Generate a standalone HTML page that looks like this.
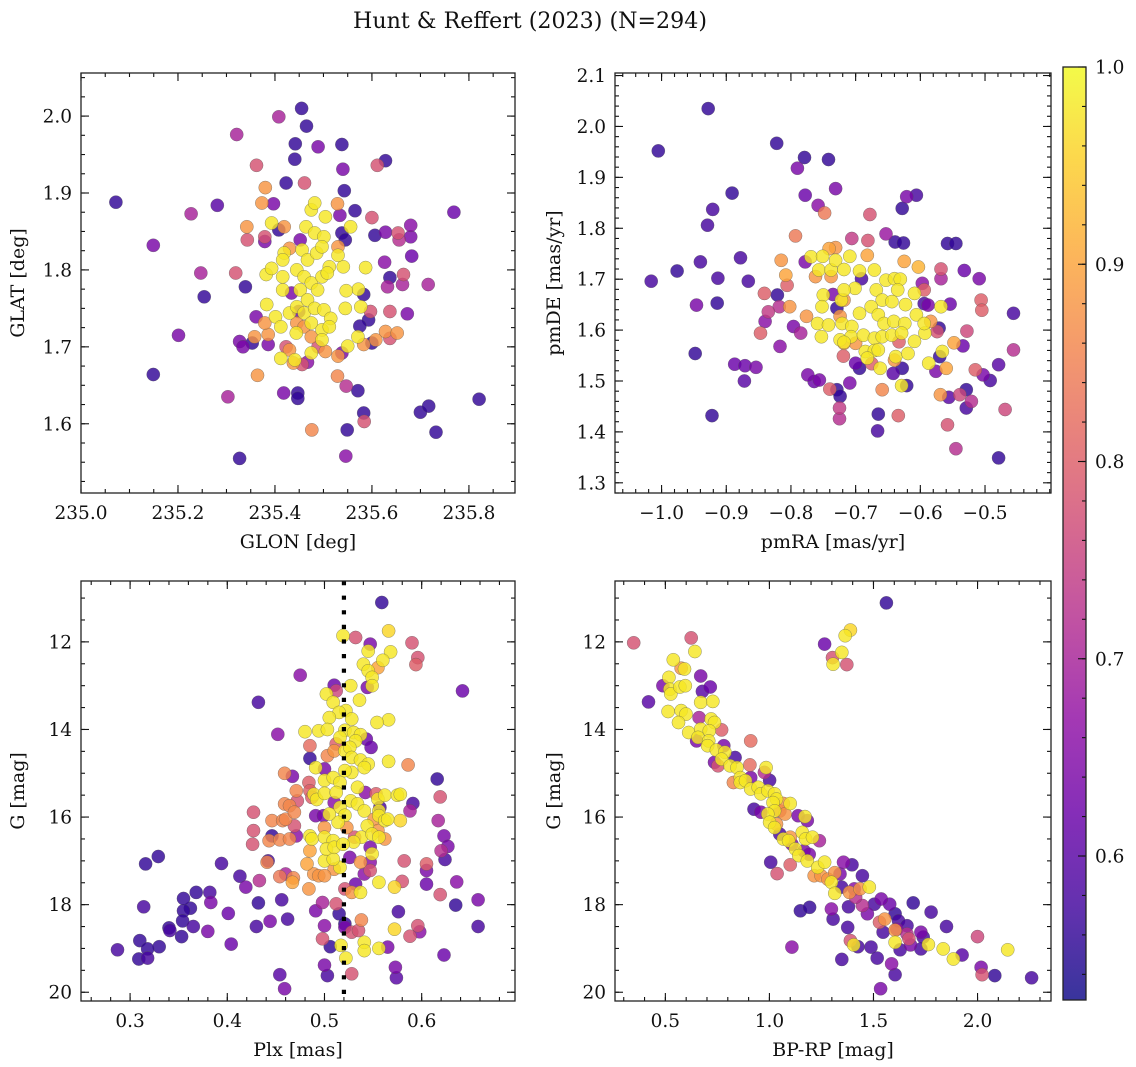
<!DOCTYPE html>
<html><head><meta charset="utf-8"><style>
html,body{margin:0;padding:0;background:#fff}
svg{display:block}
text{font-family:"DejaVu Serif","Liberation Serif",serif;fill:#111}
</style></head><body>
<svg id="fig" width="1136" height="1067" viewBox="0 0 1136 1067" xmlns="http://www.w3.org/2000/svg">
<text x="530" y="28" font-size="22" text-anchor="middle" textLength="354" lengthAdjust="spacingAndGlyphs">Hunt &amp; Reffert (2023) (N=294)</text>
</svg>
<script>
// ---------- data (x, y, membership probability) ----------
const skyPoints = [
[235.072,1.888,0.56],[235.149,1.832,0.64],[235.149,1.664,0.56],[235.201,1.715,0.64],[235.227,1.873,0.70],[235.247,1.796,0.70],[235.254,1.765,0.56],[235.281,1.884,0.60],[235.303,1.635,0.70],[235.321,1.976,0.70],[235.327,1.555,0.56],[235.319,1.796,0.78],[235.339,1.778,0.56],[235.327,1.707,0.64],[235.334,1.700,0.64],[235.353,1.705,0.56],[235.362,1.936,0.78],[235.361,1.739,0.64],[235.364,1.663,0.88],[235.380,1.907,0.88],[235.373,1.887,0.88],[235.397,1.886,0.64],[235.408,1.999,0.70],[235.423,1.913,0.56],[235.418,1.640,0.64],[235.442,1.964,0.56],[235.441,1.944,0.56],[235.455,2.010,0.56],[235.465,1.987,0.56],[235.489,1.960,0.64],[235.461,1.913,0.78],[235.447,1.640,0.56],[235.447,1.633,0.56],[235.476,1.592,0.86],[235.538,1.963,0.56],[235.540,1.931,0.64],[235.543,1.903,0.56],[235.529,1.886,0.88],[235.534,1.871,0.64],[235.565,1.877,0.56],[235.549,1.592,0.56],[235.546,1.558,0.66],[235.547,1.649,0.72],[235.571,1.643,0.56],[235.583,1.614,0.56],[235.584,1.603,0.78],[235.600,1.868,0.78],[235.606,1.845,0.56],[235.628,1.942,0.56],[235.611,1.936,0.78],[235.628,1.849,0.64],[235.626,1.810,0.66],[235.637,1.790,0.56],[235.632,1.778,0.70],[235.665,1.794,0.78],[235.663,1.781,0.70],[235.654,1.848,0.78],[235.656,1.839,0.72],[235.680,1.858,0.66],[235.680,1.843,0.64],[235.682,1.818,0.62],[235.673,1.743,0.64],[235.637,1.746,0.78],[235.637,1.711,0.78],[235.628,1.720,0.88],[235.652,1.718,0.88],[235.608,1.709,0.88],[235.600,1.705,0.56],[235.583,1.703,0.88],[235.587,1.803,0.98],[235.572,1.775,0.98],[235.583,1.768,0.56],[235.577,1.752,0.98],[235.571,1.713,0.98],[235.593,1.735,0.56],[235.575,1.727,0.56],[235.597,1.746,0.78],[235.716,1.781,0.70],[235.700,1.615,0.56],[235.717,1.623,0.56],[235.732,1.589,0.56],[235.769,1.875,0.62],[235.821,1.632,0.56],[235.529,1.662,0.86],[235.530,1.688,0.88],[235.538,1.692,0.64],[235.550,1.701,0.98],[235.545,1.750,0.98],[235.547,1.773,0.98],[235.541,1.804,0.98],[235.530,1.819,0.98],[235.530,1.830,0.88],[235.556,1.856,0.98],[235.538,1.848,0.56],[235.545,1.839,0.56],
[235.393,1.861,0.98],[235.419,1.856,0.88],[235.408,1.852,0.56],[235.430,1.828,0.88],[235.419,1.822,0.98],[235.416,1.813,0.98],[235.382,1.794,0.98],[235.393,1.802,0.98],[235.416,1.791,0.98],[235.416,1.774,0.98],[235.383,1.755,0.98],[235.401,1.739,0.98],[235.412,1.726,0.98],[235.430,1.744,0.98],[235.445,1.752,0.98],[235.444,1.718,0.98],[235.412,1.685,0.98],[235.441,1.683,0.98],[235.438,1.679,0.88],[235.430,1.696,0.88],[235.475,1.878,0.98],[235.482,1.887,0.98],[235.504,1.869,0.98],[235.464,1.856,0.98],[235.482,1.848,0.98],[235.501,1.843,0.98],[235.452,1.839,0.64],[235.456,1.826,0.98],[235.467,1.813,0.98],[235.486,1.822,0.98],[235.497,1.830,0.98],[235.512,1.804,0.98],[235.445,1.800,0.98],[235.460,1.791,0.98],[235.475,1.783,0.98],[235.488,1.774,0.98],[235.452,1.774,0.98],[235.467,1.761,0.98],[235.497,1.791,0.98],[235.508,1.796,0.98],[235.434,1.770,0.64],[235.449,1.746,0.62],[235.460,1.744,0.98],[235.482,1.750,0.98],[235.501,1.748,0.98],[235.515,1.737,0.98],[235.475,1.731,0.98],[235.497,1.722,0.98],[235.512,1.726,0.98],[235.475,1.692,0.98],[235.497,1.709,0.98],[235.504,1.694,0.88],[235.467,1.680,0.66],[235.456,1.677,0.78],[235.489,1.700,0.78],[235.445,1.731,0.88],[235.460,1.726,0.88],[235.475,1.713,0.88],[235.423,1.700,0.78],[235.379,1.837,0.64],[235.379,1.843,0.78],[235.343,1.839,0.78],[235.342,1.856,0.88],[235.358,1.713,0.88],[235.386,1.716,0.88],[235.386,1.703,0.64],[235.379,1.731,0.88]
];
const pmPoints = [
[-0.928,2.035,0.56],[-1.005,1.952,0.56],[-0.822,1.967,0.56],[-0.779,1.939,0.56],[-0.742,1.935,0.56],[-0.790,1.918,0.64],[-0.731,1.878,0.64],[-0.891,1.869,0.56],[-0.778,1.865,0.62],[-0.921,1.837,0.58],[-0.758,1.845,0.66],[-0.748,1.830,0.84],[-0.678,1.827,0.78],[-0.621,1.862,0.64],[-0.606,1.865,0.58],[-0.628,1.839,0.56],[-0.929,1.806,0.58],[-0.793,1.785,0.84],[-0.706,1.780,0.74],[-0.681,1.776,0.78],[-0.653,1.789,0.68],[-0.639,1.773,0.56],[-0.626,1.771,0.56],[-0.558,1.770,0.56],[-0.545,1.770,0.56],[-0.940,1.734,0.58],[-0.878,1.742,0.58],[-0.976,1.716,0.56],[-1.016,1.696,0.58],[-0.913,1.702,0.58],[-0.866,1.696,0.58],[-0.946,1.649,0.64],[-0.914,1.653,0.56],[-0.948,1.554,0.56],[-0.922,1.432,0.56],[-0.887,1.533,0.62],[-0.871,1.530,0.62],[-0.854,1.527,0.64],[-0.872,1.500,0.60],[-0.847,1.594,0.80],[-0.841,1.672,0.80],[-0.840,1.617,0.66],[-0.835,1.636,0.74],[-0.821,1.669,0.56],[-0.818,1.646,0.72],[-0.817,1.568,0.66],[-0.815,1.737,0.88],[-0.808,1.708,0.90],[-0.806,1.688,0.80],[-0.802,1.646,0.88],[-0.796,1.607,0.64],[-0.785,1.594,0.70],[-0.778,1.734,0.64],[-0.774,1.512,0.64],[-0.764,1.499,0.62],[-0.756,1.502,0.64],[-0.740,1.484,0.80],[-0.729,1.483,0.56],[-0.724,1.470,0.56],[-0.725,1.447,0.74],[-0.725,1.426,0.72],[-0.709,1.496,0.64],[-0.700,1.535,0.62],[-0.694,1.525,0.56],[-0.665,1.435,0.56],[-0.666,1.402,0.58],[-0.659,1.483,0.86],[-0.634,1.432,0.80],[-0.642,1.515,0.60],[-0.628,1.525,0.56],[-0.621,1.491,0.56],[-0.629,1.491,0.98],[-0.556,1.468,0.60],[-0.539,1.473,0.76],[-0.529,1.483,0.56],[-0.529,1.447,0.58],[-0.521,1.460,0.72],[-0.569,1.473,0.88],[-0.558,1.414,0.78],[-0.545,1.367,0.72],[-0.479,1.349,0.56],[-0.469,1.444,0.76],[-0.515,1.522,0.80],[-0.503,1.512,0.64],[-0.492,1.501,0.58],[-0.479,1.532,0.60],[-0.456,1.633,0.58],[-0.456,1.561,0.72],[-0.506,1.659,0.80],[-0.505,1.639,0.80],[-0.509,1.701,0.64],[-0.532,1.717,0.62],[-0.568,1.720,0.78],[-0.568,1.701,0.70],[-0.554,1.651,0.62],[-0.528,1.598,0.76],[-0.534,1.569,0.62],[-0.548,1.575,0.90],[-0.566,1.558,0.98],[-0.570,1.548,0.56],[-0.560,1.525,0.90],[-0.587,1.535,0.98],[-0.576,1.519,0.64],[-0.574,1.597,0.78],[-0.571,1.604,0.56],[-0.568,1.646,0.98],[-0.588,1.649,0.64],[-0.594,1.679,0.80],[-0.597,1.692,0.66],
[-0.769,1.744,0.98],[-0.751,1.745,0.98],[-0.757,1.718,0.98],[-0.738,1.718,0.98],[-0.731,1.737,0.98],[-0.718,1.719,0.98],[-0.709,1.745,0.98],[-0.694,1.716,0.98],[-0.671,1.718,0.98],[-0.741,1.760,0.90],[-0.731,1.762,0.88],[-0.682,1.747,0.90],[-0.625,1.735,0.90],[-0.603,1.724,0.92],[-0.762,1.705,0.88],[-0.738,1.705,0.88],[-0.750,1.669,0.98],[-0.752,1.646,0.98],[-0.722,1.659,0.98],[-0.701,1.682,0.98],[-0.718,1.679,0.98],[-0.729,1.643,0.56],[-0.735,1.670,0.64],[-0.691,1.701,0.58],[-0.653,1.698,0.98],[-0.640,1.701,0.98],[-0.631,1.700,0.98],[-0.635,1.679,0.98],[-0.668,1.679,0.98],[-0.659,1.659,0.98],[-0.644,1.656,0.98],[-0.623,1.650,0.98],[-0.609,1.672,0.98],[-0.694,1.633,0.98],[-0.676,1.646,0.98],[-0.665,1.630,0.98],[-0.656,1.613,0.98],[-0.641,1.617,0.98],[-0.624,1.613,0.98],[-0.606,1.630,0.98],[-0.759,1.613,0.98],[-0.742,1.610,0.98],[-0.753,1.587,0.98],[-0.721,1.613,0.98],[-0.706,1.607,0.98],[-0.707,1.587,0.98],[-0.688,1.590,0.98],[-0.671,1.584,0.98],[-0.659,1.587,0.98],[-0.644,1.590,0.98],[-0.629,1.594,0.98],[-0.609,1.578,0.98],[-0.593,1.594,0.98],[-0.594,1.613,0.98],[-0.724,1.581,0.98],[-0.718,1.576,0.98],[-0.685,1.558,0.98],[-0.671,1.560,0.98],[-0.665,1.561,0.98],[-0.682,1.545,0.98],[-0.662,1.525,0.98],[-0.638,1.548,0.98],[-0.619,1.554,0.98],[-0.718,1.659,0.88],[-0.724,1.627,0.88],[-0.718,1.574,0.88],[-0.700,1.574,0.88],[-0.776,1.627,0.88],[-0.719,1.549,0.80],[-0.675,1.534,0.80],[-0.640,1.541,0.88],[-0.633,1.577,0.80],[-0.594,1.652,0.58],[-0.584,1.617,0.88]
];
const plxPoints = [
[0.559,11.10,0.56],[0.566,11.75,0.96],[0.519,11.86,0.98],[0.532,11.90,0.78],[0.547,12.05,0.64],[0.590,12.02,0.78],[0.596,12.36,0.78],[0.594,12.52,0.80],[0.545,12.21,0.98],[0.568,12.23,0.98],[0.560,12.42,0.98],[0.540,12.51,0.98],[0.545,12.66,0.98],[0.555,12.59,0.90],[0.549,12.81,0.98],[0.549,13.00,0.98],[0.544,13.04,0.64],[0.475,12.76,0.66],[0.527,13.00,0.98],[0.510,12.99,0.62],[0.512,13.12,0.76],[0.502,13.19,0.98],[0.509,13.38,0.98],[0.642,13.12,0.62],[0.432,13.38,0.58],[0.536,13.33,0.98],[0.522,13.57,0.98],[0.515,13.61,0.98],[0.505,13.73,0.98],[0.528,13.76,0.98],[0.566,13.78,0.98],[0.554,13.84,0.98],[0.480,14.05,0.98],[0.494,14.03,0.98],[0.503,14.00,0.98],[0.521,14.02,0.98],[0.530,14.07,0.98],[0.537,14.12,0.98],[0.532,14.26,0.98],[0.452,14.11,0.66],[0.543,14.22,0.62],[0.548,14.41,0.62],[0.485,14.37,0.82],[0.512,14.33,0.80],[0.510,14.49,0.88],[0.521,14.49,0.98],[0.526,14.41,0.98],[0.528,14.64,0.98],[0.516,14.18,0.98],[0.485,14.66,0.56],[0.503,14.60,0.86],[0.537,14.70,0.98],[0.545,14.79,0.98],[0.541,14.87,0.98],[0.566,14.73,0.98],[0.586,14.81,0.86],[0.491,14.87,0.98],[0.500,14.90,0.64],[0.528,14.98,0.98],[0.521,14.94,0.98],[0.459,15.00,0.86],[0.467,15.07,0.64],[0.500,15.16,0.98],[0.509,15.10,0.98],[0.516,15.21,0.98],[0.534,15.32,0.98],[0.527,15.63,0.98],[0.542,15.44,0.66],[0.484,15.21,0.80],[0.485,15.40,0.80],[0.487,15.55,0.80],[0.471,15.40,0.86],[0.472,15.63,0.78],[0.489,15.48,0.98],[0.492,15.60,0.98],[0.500,15.46,0.98],[0.512,15.44,0.98],[0.510,15.67,0.66],[0.516,15.78,0.98],[0.553,15.47,0.80],[0.555,15.59,0.98],[0.562,15.50,0.98],[0.575,15.50,0.98],[0.578,15.48,0.98],[0.534,15.70,0.98],[0.541,15.86,0.98],[0.556,15.86,0.98],[0.557,15.78,0.58],[0.591,15.69,0.58],[0.588,15.86,0.70],[0.616,15.13,0.56],[0.619,15.54,0.78],[0.617,16.08,0.70],[0.623,16.43,0.64],[0.627,16.67,0.64],[0.620,16.77,0.72],[0.624,16.97,0.58],[0.605,17.07,0.80],[0.605,17.22,0.64],[0.605,17.53,0.62],[0.636,17.48,0.66],[0.619,17.77,0.78],[0.635,18.01,0.56],[0.658,17.89,0.64],[0.658,18.50,0.58],[0.623,19.15,0.62],[0.596,18.48,0.78],[0.598,18.62,0.66],[0.588,18.72,0.78],[0.576,18.16,0.58],[0.572,18.56,0.96],[0.573,19.43,0.64],[0.574,19.67,0.60],[0.565,18.97,0.64],[0.556,19.00,0.98],[0.541,18.86,0.98],[0.541,19.05,0.98],[0.538,18.35,0.86],[0.528,18.63,0.78],[0.535,18.59,0.78],[0.521,18.44,0.56],[0.521,18.52,0.64],[0.522,19.22,0.98],[0.517,18.93,0.98],[0.512,17.98,0.78],[0.515,18.21,0.56],[0.528,19.58,0.78],[0.503,19.62,0.58],[0.500,19.38,0.64],[0.506,18.96,0.56],[0.500,18.48,0.66],[0.498,18.78,0.78],[0.491,18.14,0.64],[0.498,17.95,0.70],[0.521,17.64,0.78],[0.528,17.72,0.88],[0.537,17.72,0.98],[0.532,17.53,0.62],[0.556,17.49,0.98],[0.572,17.60,0.96],[0.580,17.47,0.78],[0.582,17.00,0.78],[0.541,17.30,0.66],[0.547,17.22,0.78],[0.537,17.03,0.88],[0.547,17.03,0.66],[0.526,16.92,0.64],[0.516,17.15,0.98],[0.510,17.19,0.88],[0.500,17.00,0.98],[0.509,16.96,0.98],[0.556,15.97,0.98],[0.562,16.08,0.98],[0.551,16.05,0.88],[0.544,16.20,0.98],[0.555,16.31,0.88],[0.538,16.46,0.98],[0.531,16.46,0.78],[0.523,16.24,0.88],[0.549,16.39,0.98],[0.556,16.46,0.98],[0.562,16.50,0.88],[0.549,16.84,0.98],[0.547,16.69,0.64],[0.565,16.05,0.98],[0.578,16.08,0.96],[0.530,16.57,0.98],[0.521,15.96,0.98],[0.514,16.12,0.98],[0.485,16.43,0.98],[0.487,16.50,0.98],[0.485,16.77,0.90],[0.500,16.24,0.88],[0.500,16.46,0.98],[0.509,16.54,0.98],[0.502,16.73,0.98],[0.510,16.69,0.98],[0.519,16.62,0.98],[0.491,15.97,0.64],[0.499,15.97,0.64],[0.505,15.93,0.98],[0.482,17.07,0.90],[0.489,17.30,0.88],[0.494,17.34,0.88],[0.500,17.34,0.88],[0.484,17.64,0.88],[0.454,17.36,0.84],[0.460,17.30,0.70],[0.468,17.39,0.86],[0.467,17.49,0.90],[0.441,17.03,0.86],[0.442,17.00,0.58],[0.433,17.45,0.72],[0.427,15.89,0.78],[0.427,16.31,0.78],[0.426,16.62,0.78],[0.446,16.08,0.86],[0.457,16.08,0.86],[0.460,16.05,0.86],[0.446,16.43,0.56],[0.443,16.54,0.86],[0.454,16.52,0.86],[0.464,16.50,0.86],[0.459,15.70,0.86],[0.464,15.74,0.86],[0.469,15.89,0.86],[0.471,16.43,0.66],[0.469,16.20,0.78],[0.413,17.35,0.58],[0.419,17.60,0.64],[0.394,17.06,0.58],[0.382,17.72,0.58],[0.383,17.95,0.64],[0.368,17.72,0.56],[0.362,18.08,0.56],[0.355,18.14,0.56],[0.355,17.86,0.56],[0.354,18.37,0.56],[0.353,18.73,0.56],[0.365,18.50,0.58],[0.340,18.53,0.56],[0.341,18.59,0.58],[0.330,18.96,0.56],[0.329,16.90,0.56],[0.316,17.07,0.56],[0.314,18.05,0.58],[0.310,18.82,0.56],[0.318,19.01,0.56],[0.309,19.24,0.56],[0.318,19.22,0.58],[0.287,19.03,0.58],[0.380,18.61,0.64],[0.401,18.20,0.62],[0.404,18.90,0.62],[0.432,17.96,0.56],[0.430,18.50,0.58],[0.444,18.38,0.64],[0.456,17.89,0.58],[0.462,18.33,0.58],[0.454,19.60,0.60],[0.459,19.92,0.64]
];
const cmdPoints = [
[1.562,11.11,0.56],[0.348,12.02,0.78],[0.624,11.91,0.78],[0.642,12.22,0.98],[0.538,12.41,0.98],[0.592,12.62,0.98],[0.576,12.60,0.88],[0.670,12.78,0.64],[0.517,12.81,0.98],[0.488,13.00,0.64],[0.522,13.08,0.98],[0.526,13.19,0.98],[0.570,13.03,0.98],[0.596,13.00,0.98],[0.678,13.13,0.60],[0.716,13.03,0.62],[0.419,13.37,0.60],[0.670,13.38,0.98],[0.728,13.36,0.98],[0.513,13.59,0.98],[0.576,13.57,0.98],[0.599,13.65,0.98],[0.662,13.73,0.70],[0.563,13.84,0.98],[0.612,14.07,0.98],[0.670,13.99,0.98],[0.720,13.76,0.98],[0.736,13.84,0.98],[0.770,14.01,0.80],[0.657,14.18,0.98],[0.711,14.03,0.98],[0.708,14.26,0.98],[0.650,14.26,0.64],[0.910,14.26,0.82],[0.703,14.37,0.98],[0.745,14.47,0.98],[0.786,14.52,0.98],[0.781,14.37,0.64],[0.835,14.64,0.58],[0.736,14.75,0.64],[0.753,14.83,0.78],[0.770,14.68,0.98],[0.811,14.83,0.98],[0.844,14.87,0.98],[0.860,15.10,0.98],[0.910,15.10,0.64],[0.906,14.81,0.82],[0.984,14.87,0.98],[0.976,14.98,0.72],[1.001,15.16,0.58],[0.827,15.21,0.86],[0.860,15.21,0.98],[0.885,15.17,0.98],[0.910,15.36,0.98],[0.946,15.32,0.98],[0.959,15.47,0.98],[0.992,15.40,0.98],[1.025,15.47,0.98],[1.034,15.59,0.98],[1.067,15.69,0.88],[1.100,15.69,0.98],[0.926,15.82,0.58],[0.959,15.89,0.64],[1.017,15.67,0.98],[1.025,15.86,0.98],[1.050,15.86,0.80],[1.075,15.93,0.88],[0.992,15.93,0.98],[1.001,16.12,0.98],[1.025,16.24,0.98],[1.034,16.16,0.88],[1.138,15.97,0.64],[1.171,15.99,0.98],[1.182,16.08,0.64],[1.158,16.35,0.98],[1.174,16.50,0.98],[1.207,16.46,0.98],[1.240,16.54,0.70],[1.050,16.39,0.58],[1.067,16.50,0.98],[1.092,16.54,0.98],[1.100,16.46,0.88],[1.108,16.62,0.64],[1.125,16.73,0.98],[1.141,16.88,0.98],[1.166,16.77,0.64],[1.191,16.85,0.64],[1.006,17.03,0.58],[1.037,17.29,0.78],[1.100,17.09,0.80],[1.182,17.00,0.98],[1.232,17.15,0.98],[1.265,17.03,0.98],[1.215,17.34,0.88],[1.248,17.34,0.88],[1.281,17.42,0.88],[1.314,17.27,0.88],[1.339,17.30,0.64],[1.298,17.49,0.98],[1.356,17.03,0.66],[1.397,17.09,0.58],[1.447,17.34,0.58],[1.314,17.74,0.98],[1.347,17.60,0.58],[1.385,17.72,0.88],[1.408,17.64,0.66],[1.435,17.64,0.88],[1.480,17.60,0.98],[1.380,18.05,0.58],[1.447,18.02,0.72],[1.471,18.21,0.64],[1.414,17.83,0.72],[1.504,17.99,0.58],[1.537,17.87,0.64],[1.578,17.99,0.62],[1.149,18.14,0.56],[1.193,18.06,0.56],[1.298,18.10,0.66],[1.306,18.33,0.58],[1.529,18.40,0.80],[1.554,18.33,0.88],[1.604,18.21,0.56],[1.620,18.37,0.58],[1.546,18.63,0.58],[1.604,18.58,0.88],[1.612,18.56,0.66],[1.661,18.48,0.58],[1.670,18.78,0.78],[1.728,18.63,0.64],[1.739,18.74,0.58],[1.661,18.67,0.72],[1.604,18.86,0.98],[1.678,18.92,0.64],[1.628,19.03,0.58],[1.728,19.01,0.58],[1.764,18.91,0.98],[1.691,17.96,0.56],[1.777,18.17,0.58],[1.851,18.50,0.58],[1.835,19.01,0.98],[1.884,19.24,0.98],[1.926,19.15,0.60],[2.000,18.73,0.76],[2.017,19.43,0.64],[2.022,19.60,0.78],[2.083,19.62,0.56],[2.145,19.03,0.98],[2.260,19.67,0.58],[1.376,18.52,0.58],[1.389,18.82,0.78],[1.405,18.92,0.98],[1.425,18.96,0.58],[1.488,18.97,0.58],[1.518,19.22,0.58],[1.587,19.35,0.66],[1.604,19.60,0.58],[1.348,19.25,0.58],[1.534,19.92,0.64],[1.108,18.97,0.66],[1.265,12.05,0.62],[1.389,11.73,0.96],[1.364,11.86,0.98],[1.348,12.24,0.98],[1.303,12.36,0.78],[1.306,12.51,0.98],[1.372,12.52,0.78]
];
const glonTicks = [235.0,235.2,235.4,235.6,235.8];
const glatTicks = [1.6,1.7,1.8,1.9,2.0];
const pmraTicks = [-1.0,-0.9,-0.8,-0.7,-0.6,-0.5];
const pmdeTicks = [1.3,1.4,1.5,1.6,1.7,1.8,1.9,2.0,2.1];
const plxTicks = [0.3,0.4,0.5,0.6];
const gTicks = [12,14,16,18,20];
const bprpTicks = [0.5,1.0,1.5,2.0];
const cbarTicks = [0.6,0.7,0.8,0.9,1.0];
const plxRef = [0.52];
const probRange = [0.527, 1.0];

// ---------- rendering ----------
const NS = 'http://www.w3.org/2000/svg';
const svg = document.getElementById('fig');
const TICKFS = 18.5, LABELFS = 19;
const plasma = ['#0d0887','#41049d','#6a00a8','#8f0da4','#b12a90','#cc4778','#e16462','#f2844b','#fca636','#fcce25','#f0f921'];
function hex(h){return [1,3,5].map(i=>parseInt(h.substr(i,2),16));}
function cmap(t){t=Math.max(0,Math.min(1,t));const s=t*10,i=Math.min(9,Math.floor(s)),f=s-i;const a=hex(plasma[i]),b=hex(plasma[i+1]);return 'rgb('+a.map((v,k)=>Math.round(v+(b[k]-v)*f)).join(',')+')';}
function pcolor(p){return cmap((p-probRange[0])/(probRange[1]-probRange[0]));}
function el(tag,attrs,parent){const e=document.createElementNS(NS,tag);for(const k in attrs)e.setAttribute(k,attrs[k]);(parent||svg).appendChild(e);return e;}
function fmt(v,d){const s=Math.abs(v).toFixed(d);return v<0?'\u2212'+s:s;}

function panel(cfg){
  const g=el('g',{});
  
  
  const X=v=>cfg.x0+(v-cfg.xlim[0])/(cfg.xlim[1]-cfg.xlim[0])*(cfg.x1-cfg.x0);
  const Y=cfg.yinv ? (v=>cfg.y0+(v-cfg.ylim[0])/(cfg.ylim[1]-cfg.ylim[0])*(cfg.y1-cfg.y0))
                   : (v=>cfg.y1-(v-cfg.ylim[0])/(cfg.ylim[1]-cfg.ylim[0])*(cfg.y1-cfg.y0));
  const clip='clip-'+cfg.name;
  const cp=el('clipPath',{id:clip},g);
  el('rect',{x:cfg.x0,y:cfg.y0,width:cfg.x1-cfg.x0,height:cfg.y1-cfg.y0},cp);
  const pts=cfg.data.slice().sort((a,b)=>a[2]-b[2]);
  const mg=el('g',{'clip-path':'url(#'+clip+')'},g);
  
  
  pts.forEach(d=>{
    const c=el('circle',{cx:X(d[0]).toFixed(1),cy:Y(d[1]).toFixed(1),r:6.6,fill:pcolor(d[2]),'fill-opacity':0.82,stroke:'#555','stroke-opacity':0.7,'stroke-width':0.45},mg);
    
    
  });
  if(cfg.vline){cfg.vline.forEach(v=>{
    const l=el('line',{x1:X(v),x2:X(v),y1:cfg.y0,y2:cfg.y1,stroke:'#000','stroke-width':4.2,'stroke-dasharray':'4.2 10.4'},g);
    
    
  });}
  const tk=el('g',{stroke:'#111','stroke-width':1.1},g);
  
  
  function xt(v,len){const x=X(v);if(x<cfg.x0-0.1||x>cfg.x1+0.1)return;el('line',{x1:x,x2:x,y1:cfg.y1,y2:cfg.y1-len},tk);el('line',{x1:x,x2:x,y1:cfg.y0,y2:cfg.y0+len},tk);}
  function yt(v,len){const y=Y(v);if(y<cfg.y0-0.1||y>cfg.y1+0.1)return;el('line',{x1:cfg.x0,x2:cfg.x0+len,y1:y,y2:y},tk);el('line',{x1:cfg.x1,x2:cfg.x1-len,y1:y,y2:y},tk);}
  const xa=Math.min(...cfg.xlim),xb=Math.max(...cfg.xlim),ya=Math.min(...cfg.ylim),yb=Math.max(...cfg.ylim);
  for(let k=Math.ceil(xa/cfg.xminor);k*cfg.xminor<=xb;k++)xt(k*cfg.xminor,4);
  for(let k=Math.ceil(ya/cfg.yminor);k*cfg.yminor<=yb;k++)yt(k*cfg.yminor,4);
  cfg.xticks.forEach(v=>{xt(v,8);
    const t=el('text',{x:X(v),y:cfg.y1+26,'font-size':TICKFS,'text-anchor':'middle'},g);t.textContent=fmt(v,cfg.xd);
    
    
  });
  cfg.yticks.forEach(v=>{yt(v,8);
    const t=el('text',{x:cfg.x0-9,y:Y(v)+6.5,'font-size':TICKFS,'text-anchor':'end'},g);t.textContent=fmt(v,cfg.yd);
    
    
  });
  const fr=el('rect',{x:cfg.x0,y:cfg.y0,width:cfg.x1-cfg.x0,height:cfg.y1-cfg.y0,fill:'none',stroke:'#222','stroke-width':1.3},g);
  
  
  const xl=el('text',{x:(cfg.x0+cfg.x1)/2,y:cfg.y1+55,'font-size':LABELFS,'text-anchor':'middle'},g);xl.textContent=cfg.xlabel;
  
  
  const cy=(cfg.y0+cfg.y1)/2;
  const yl=el('text',{x:cfg.ylx,y:cy,'font-size':LABELFS,'text-anchor':'middle',transform:'rotate(-90 '+cfg.ylx+' '+cy+')'},g);yl.textContent=cfg.ylabel;
  
  
}

panel({name:'sky-panel',data:skyPoints,x0:81,x1:515,y0:73,y1:493,xlim:[235.0,235.895],ylim:[1.510,2.056],xticks:glonTicks,yticks:glatTicks,xminor:0.05,yminor:0.025,xd:1,yd:1,xlabel:'GLON [deg]',ylabel:'GLAT [deg]',ylx:24});
panel({name:'proper-motion-panel',data:pmPoints,x0:615,x1:1051,y0:73,y1:493,xlim:[-1.072,-0.398],ylim:[1.280,2.105],xticks:pmraTicks,yticks:pmdeTicks,xminor:0.02,yminor:0.02,xd:1,yd:1,xlabel:'pmRA [mas/yr]',ylabel:'pmDE [mas/yr]',ylx:560});
panel({name:'parallax-panel',data:plxPoints,x0:81,x1:515,y0:581,y1:1001,xlim:[0.2495,0.696],ylim:[10.61,20.2],yinv:true,xticks:plxTicks,yticks:gTicks,xminor:0.02,yminor:0.5,xd:1,yd:0,xlabel:'Plx [mas]',ylabel:'G [mag]',ylx:24,vline:plxRef});
panel({name:'cmd-panel',data:cmdPoints,x0:615,x1:1051,y0:581,y1:1001,xlim:[0.258,2.353],ylim:[10.61,20.2],yinv:true,xticks:bprpTicks,yticks:gTicks,xminor:0.1,yminor:0.5,xd:1,yd:0,xlabel:'BP-RP [mag]',ylabel:'G [mag]',ylx:560});

(function(){
  const x0=1063,x1=1086,y0=67,y1=1000;
  const cb=el('g',{});
  
  
  const defs=el('defs',{},cb);
  const lg=el('linearGradient',{id:'cbgrad',x1:0,y1:1,x2:0,y2:0},defs);
  for(let i=0;i<=20;i++){const t=i/20;el('stop',{offset:t,'stop-color':cmap(t),'stop-opacity':0.82},lg);}
  el('rect',{x:x0,y:y0,width:x1-x0,height:y1-y0,fill:'url(#cbgrad)'},cb);
  const Y=v=>y1-(v-probRange[0])/(probRange[1]-probRange[0])*(y1-y0);
  for(let k=Math.ceil(probRange[0]/0.02);k*0.02<=probRange[1]+1e-9;k++){const y=Y(k*0.02);el('line',{x1:x1,x2:x1-4,y1:y,y2:y,stroke:'#111','stroke-width':1.1},cb);}
  cbarTicks.forEach(v=>{const y=Y(v);el('line',{x1:x1,x2:x1-8,y1:y,y2:y,stroke:'#111','stroke-width':1.1},cb);
    const t=el('text',{x:x1+9,y:y+6.5,'font-size':TICKFS},cb);t.textContent=v.toFixed(1);
    
    
  });
  el('rect',{x:x0,y:y0,width:x1-x0,height:y1-y0,fill:'none',stroke:'#222','stroke-width':1.3},cb);
})();
</script>
</body></html>
